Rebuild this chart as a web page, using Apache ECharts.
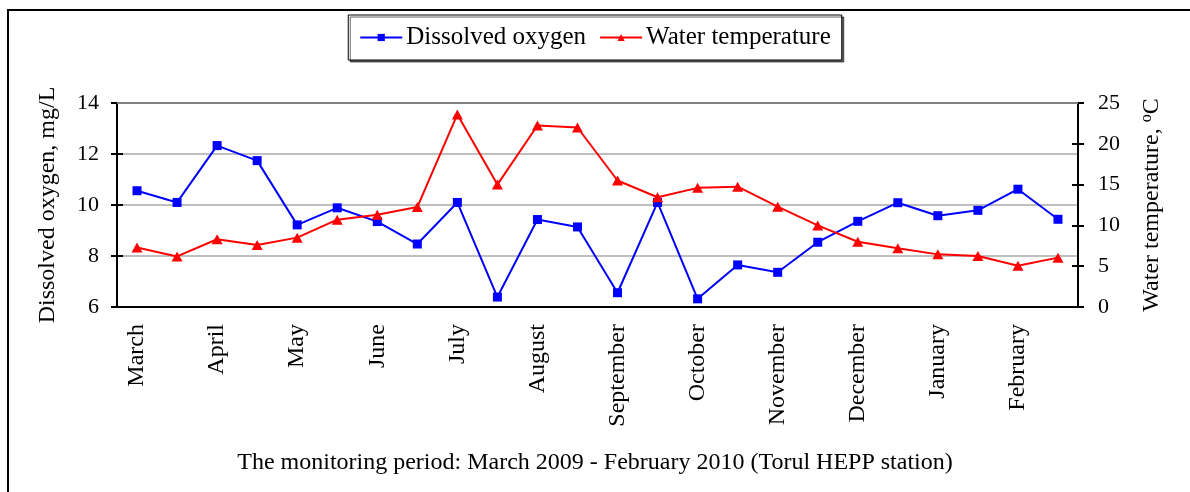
<!DOCTYPE html>
<html lang="en">
<head>
    <meta charset="UTF-8">
    <title>Dissolved oxygen and water temperature</title>
    <script src="https://cdn.jsdelivr.net/npm/echarts@6/dist/echarts.min.js"></script>
    <style>
        body{
            padding: 0px;
            margin: 0px;
            background-color: #ffffff;
            overflow: hidden;
        }
        .frame{
            position: absolute;
            left: 7px;
            top: 9px;
            width: 1200px;
            height: 500px;
            border-left: 2px solid #000;
            border-top: 2px solid #000;
        }
        #chart{
            position: absolute;
            left: 0px;
            top: 0px;
            width: 1190px;
            height: 492px;
        }
    </style>
</head>
<body>
    <div class="frame"></div>
    <div id="chart"></div>
    <script>
        // two readings per month, labels only on the first one
        var months = ['March', '', 'April', '', 'May', '', 'June', '', 'July', '', 'August', '',
                      'September', '', 'October', '', 'November', '', 'December', '', 'January', '', 'February', ''];
        var oxygen = [10.56, 10.10, 12.33, 11.74, 9.22, 9.89, 9.35, 8.47, 10.10, 6.39, 9.43, 9.14,
                      6.56, 10.10, 6.32, 7.65, 7.36, 8.54, 9.36, 10.09, 9.58, 9.79, 10.62, 9.44];
        var temperature = [7.3, 6.2, 8.3, 7.6, 8.5, 10.7, 11.3, 12.25, 23.6, 15.0, 22.25, 22.0,
                           15.5, 13.45, 14.6, 14.75, 12.3, 10.0, 8.0, 7.2, 6.45, 6.25, 5.05, 6.05];
        var oxygenTicks = [6, 14, 2];
        var tempTicks = [0, 25, 5];

        var font = "'Liberation Serif', 'Times New Roman', serif";
        var chart = echarts.init(document.getElementById('chart'));

        var option = {
            backgroundColor: 'transparent',
            textStyle: {fontFamily: font, color: '#000'},
            animation: false,
            title: {
                text: 'The monitoring period: March 2009 - February 2010 (Torul HEPP station)',
                left: 'center',
                top: 446,
                textStyle: {fontFamily: font, fontSize: 24, fontWeight: 'normal', color: '#000'}
            },
            legend: {
                top: 15,
                left: 'center',
                padding: [10, 11, 10, 11],
                borderColor: '#000',
                borderWidth: 1,
                shadowColor: 'rgba(0,0,0,0.6)',
                shadowOffsetX: 2,
                shadowOffsetY: 2,
                backgroundColor: '#fff',
                itemWidth: 42,
                itemHeight: 9,
                itemGap: 13,
                textStyle: {fontFamily: font, fontSize: 25, color: '#000', padding: [0, 0, 0, -1]},
                data: ['Dissolved oxygen', 'Water temperature']
            },
            grid: {left: 117, right: 112, top: 103, bottom: 185},
            xAxis: [{
                type: 'category',
                data: months,
                boundaryGap: true,
                axisLine: {lineStyle: {color: '#000', width: 2}},
                axisTick: {interval: 0, length: 7, lineStyle: {color: '#000', width: 2}},
                axisLabel: {interval: 0, rotate: 90, margin: 17, fontFamily: font, fontSize: 24, color: '#000'}
            }, {
                type: 'category',
                data: months,
                position: 'bottom',
                boundaryGap: true,
                axisLine: {show: false},
                axisTick: {inside: true, interval: 0, length: 6, lineStyle: {color: '#000', width: 2}},
                axisLabel: {show: false}
            }],
            yAxis: [{
                type: 'value',
                min: oxygenTicks[0],
                max: oxygenTicks[1],
                interval: oxygenTicks[2],
                name: 'Dissolved oxygen, mg/L',
                nameLocation: 'middle',
                nameGap: 57,
                nameTextStyle: {fontFamily: font, fontSize: 24, color: '#000'},
                axisLine: {show: true, lineStyle: {color: '#000', width: 2}},
                axisTick: {show: true, length: 6, lineStyle: {color: '#000', width: 2}},
                axisLabel: {margin: 18, fontFamily: font, fontSize: 22, color: '#000'},
                splitLine: {lineStyle: {color: '#bfbfbf', width: 2}}
            }, {
                type: 'value',
                min: tempTicks[0],
                max: tempTicks[1],
                interval: tempTicks[2],
                position: 'right',
                name: '{t|Water temperature, }{s|o}{t|C}',
                nameLocation: 'middle',
                nameGap: 61,
                nameRotate: 90,
                nameTextStyle: {
                    rich: {
                        t: {fontFamily: font, fontSize: 24, color: '#000'},
                        s: {fontFamily: font, fontSize: 16, color: '#000', verticalAlign: 'top', padding: [0, 0, 9, 0]}
                    }
                },
                axisLine: {show: true, lineStyle: {color: '#000', width: 2}},
                axisTick: {show: true, length: 6, lineStyle: {color: '#000', width: 2}},
                axisLabel: {margin: 20, fontFamily: font, fontSize: 22, color: '#000'},
                splitLine: {show: false}
            }, {
                type: 'value',
                min: oxygenTicks[0],
                max: oxygenTicks[1],
                interval: oxygenTicks[2],
                position: 'left',
                axisLine: {show: false},
                axisTick: {show: true, inside: true, length: 6, lineStyle: {color: '#000', width: 2}},
                axisLabel: {show: false},
                splitLine: {show: false}
            }, {
                type: 'value',
                min: tempTicks[0],
                max: tempTicks[1],
                interval: tempTicks[2],
                position: 'right',
                axisLine: {show: false},
                axisTick: {show: true, inside: true, length: 6, lineStyle: {color: '#000', width: 2}},
                axisLabel: {show: false},
                splitLine: {show: false}
            }],
            graphic: [{
                type: 'line',
                shape: {x1: 117, y1: 103, x2: 1078, y2: 103},
                style: {stroke: '#808080', lineWidth: 2},
                z: 1
            }],
            series: [{
                name: 'Dissolved oxygen',
                type: 'line',
                yAxisIndex: 0,
                data: oxygen,
                symbol: 'rect',
                symbolSize: 9,
                color: '#0000ff',
                lineStyle: {width: 2, color: '#0000ff'},
                itemStyle: {color: '#0000ff'},
                z: 3
            }, {
                name: 'Water temperature',
                type: 'line',
                yAxisIndex: 1,
                data: temperature,
                symbol: 'triangle',
                symbolSize: [11, 10],
                color: '#ff0000',
                lineStyle: {width: 2, color: '#ff0000'},
                itemStyle: {color: '#ff0000'},
                z: 3
            }]
        };

        chart.setOption(option);
    </script>
</body>
</html>
